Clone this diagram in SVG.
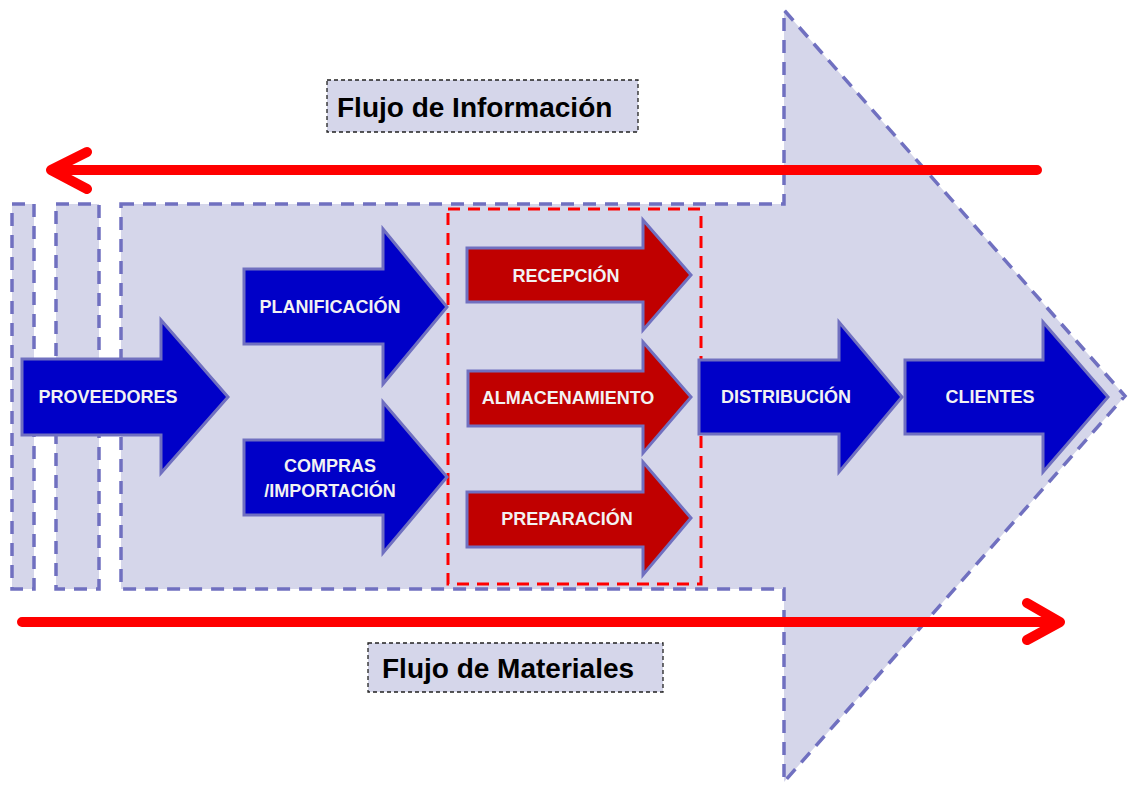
<svg xmlns="http://www.w3.org/2000/svg" width="1131" height="785" viewBox="0 0 1131 785">
<style>
.bg{fill:#D5D6EA;stroke:#7070C0;stroke-width:3.5;stroke-dasharray:13 9}
.blue{fill:#0000C8;stroke:#7070C0;stroke-width:3;stroke-linejoin:miter}
.red{fill:#C00000;stroke:#7070C0;stroke-width:3;stroke-linejoin:miter}
.nt{font-family:"Liberation Sans",Arial,sans-serif;font-weight:bold;font-size:18px;fill:#F2F2F2;text-anchor:middle}
.lbox{fill:#D5D6EA;stroke:#222;stroke-width:1.3;stroke-dasharray:4 3}
.lt{font-family:"Liberation Sans",Arial,sans-serif;font-weight:bold;font-size:28px;fill:#000}
.flow{fill:none;stroke:#FF0000;stroke-width:10;stroke-linecap:round;stroke-linejoin:round}
</style>
<rect width="1131" height="785" fill="#fff"/>
<g id="background">
<rect class="bg" x="12" y="204" width="22" height="385"/>
<rect class="bg" x="56" y="204" width="43" height="385"/>
<path class="bg" d="M121 204 H784 V10 L1125 396 L784 782 V589 H121 Z"/>
<rect x="448" y="209" width="253" height="375" fill="none" stroke="#FF0000" stroke-width="3" stroke-dasharray="12 8"/>
</g>
<g id="label-informacion">
<rect class="lbox" x="327" y="80" width="311" height="52"/>
<text class="lt" x="337" y="117">Flujo de Información</text>
</g>
<g id="label-materiales">
<rect class="lbox" x="368" y="643" width="295" height="49"/>
<text class="lt" x="382" y="678">Flujo de Materiales</text>
</g>
<g id="connectors">
<path class="flow" d="M1037 170 H55 M87 152 L51 170 L87 189"/>
<path class="flow" d="M22 622 H1058 M1027 603 L1060 622 L1027 640"/>
</g>
<g id="proveedores">
<path class="blue" d="M22 359 H161 V320 L228 397 L161 473 V435 H22 Z"/>
<text class="nt" x="108" y="403">PROVEEDORES</text>
</g>
<g id="planificacion">
<path class="blue" d="M244 269 H383 V229 L447 307 L383 384 V344 H244 Z"/>
<text class="nt" x="330" y="313">PLANIFICACIÓN</text>
</g>
<g id="compras">
<path class="blue" d="M244 440 H383 V402 L447 477 L383 553 V515 H244 Z"/>
<text class="nt" x="330" y="472">COMPRAS</text>
<text class="nt" x="330" y="497">/IMPORTACIÓN</text>
</g>
<g id="recepcion">
<path class="red" d="M467 248 H643 V220 L691 275 L643 330 V302 H467 Z"/>
<text class="nt" x="566" y="282">RECEPCIÓN</text>
</g>
<g id="almacenamiento">
<path class="red" d="M468 371 H643 V342 L691 397 L643 453 V426 H468 Z"/>
<text class="nt" x="568" y="404">ALMACENAMIENTO</text>
</g>
<g id="preparacion">
<path class="red" d="M467 492 H643 V462 L691 518 L643 575 V547 H467 Z"/>
<text class="nt" x="567" y="525">PREPARACIÓN</text>
</g>
<g id="distribucion">
<path class="blue" d="M699 360 H839 V322 L902 397 L839 472 V434 H699 Z"/>
<text class="nt" x="786" y="403">DISTRIBUCIÓN</text>
</g>
<g id="clientes">
<path class="blue" d="M905 360 H1043 V322 L1108 397 L1043 472 V434 H905 Z"/>
<text class="nt" x="990" y="403">CLIENTES</text>
</g>
</svg>
